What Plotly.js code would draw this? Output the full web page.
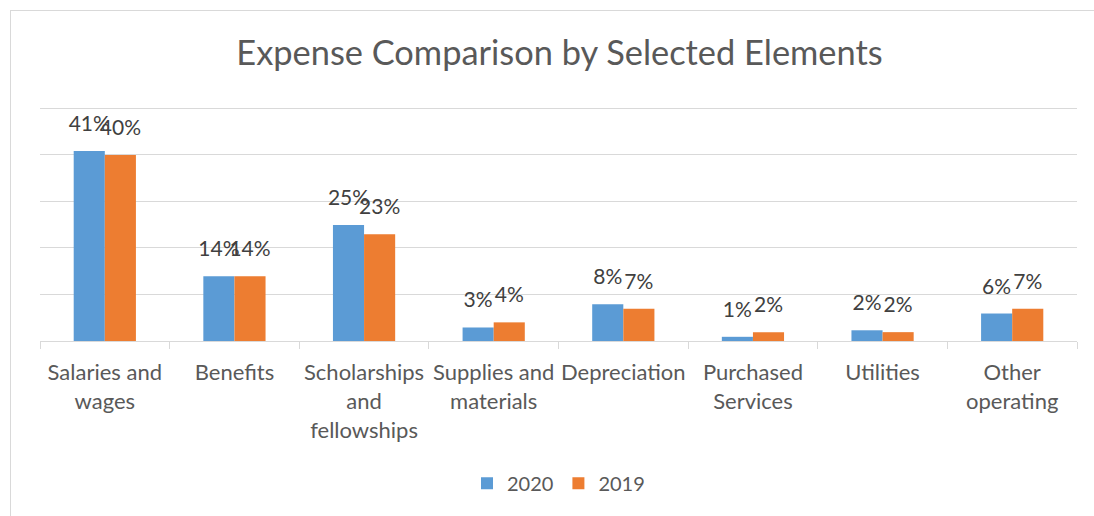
<!DOCTYPE html>
<html>
<head>
<meta charset="utf-8">
<script src="https://cdn.plot.ly/plotly-3.0.1.min.js"></script>
<style>
  html, body { margin: 0; padding: 0; background: #fff; overflow: hidden; }
  #wrap { position: relative; width: 1094px; height: 516px; }
  #chart { position: absolute; left: 0; top: 0; width: 1094px; height: 516px; }
  #frame { position: absolute; left: 10px; top: 10px; width: 1100px; height: 520px;
           border: 1px solid #d9d9d9; pointer-events: none; }
</style>
</head>
<body>
<div id="wrap">
  <div id="chart"></div>
  <div id="frame"></div>
</div>
<script>
const categories = [
  "Salaries and<br>wages",
  "Benefits",
  "Scholarships<br>and<br>fellowships",
  "Supplies and<br>materials",
  "Depreciation",
  "Purchased<br>Services",
  "Utilities",
  "Other<br>operating"
];
const seriesNames = ["2020", "2019"];
const values2020 = [0.408, 0.139, 0.249, 0.029, 0.079, 0.009, 0.023, 0.059];
const values2019 = [0.399, 0.139, 0.229, 0.040, 0.069, 0.019, 0.019, 0.069];
const colors = ["#5B9BD5", "#ED7D31"];

const FONT = "Lato, 'Open Sans', sans-serif";
const seriesValues = [values2020, values2019];

const barTraces = seriesValues.map((vals, i) => ({
  type: "bar",
  name: seriesNames[i],
  x: categories,
  y: vals,
  marker: { color: colors[i], line: { width: 0 } },
  hoverinfo: "skip"
}));

const labelTraces = seriesValues.map((vals, i) => ({
  type: "scatter",
  mode: "markers+text",
  x: categories,
  y: vals,
  text: vals.map(v => Math.round(v * 100) + "%"),
  textposition: "top center",
  textfont: { family: FONT, size: 21, color: "#404040" },
  marker: { size: 22, opacity: 0 },
  showlegend: false,
  hoverinfo: "skip",
  cliponaxis: false
}));

const layout = {
  width: 1094,
  height: 516,
  margin: { l: 40, r: 17, t: 106, b: 175 },
  paper_bgcolor: "#ffffff",
  plot_bgcolor: "#ffffff",
  barmode: "group",
  bargap: 0.52,
  bargroupgap: 0,
  scattermode: "group",
  scattergap: 0.52,
  title: {
    text: "Expense Comparison by Selected Elements",
    font: { family: FONT, size: 34.4, color: "#595959" },
    x: 0.5114,
    xanchor: "center",
    y: 0.897,
    yanchor: "middle"
  },
  xaxis: {
    type: "category",
    showline: true,
    linecolor: "#d9d9d9",
    linewidth: 1,
    ticks: "outside",
    tickson: "boundaries",
    ticklen: 7,
    tickcolor: "#d9d9d9",
    tickangle: 0,
    ticklabelstandoff: 12,
    tickfont: { family: FONT, size: 22, color: "#595959" },
    showgrid: false,
    fixedrange: true
  },
  yaxis: {
    range: [0, 0.5043],
    dtick: 0.1,
    showticklabels: false,
    showgrid: true,
    gridcolor: "#d9d9d9",
    gridwidth: 1,
    zeroline: false,
    ticks: "",
    fixedrange: true
  },
  legend: {
    orientation: "h",
    x: 0.5,
    xanchor: "center",
    y: -0.605,
    yanchor: "middle",
    font: { family: FONT, size: 20, color: "#595959" },
    itemwidth: 30,
    traceorder: "normal"
  },
  showlegend: true
};

Plotly.newPlot("chart", barTraces.concat(labelTraces), layout, { staticPlot: true, displayModeBar: false });
</script>
</body>
</html>
